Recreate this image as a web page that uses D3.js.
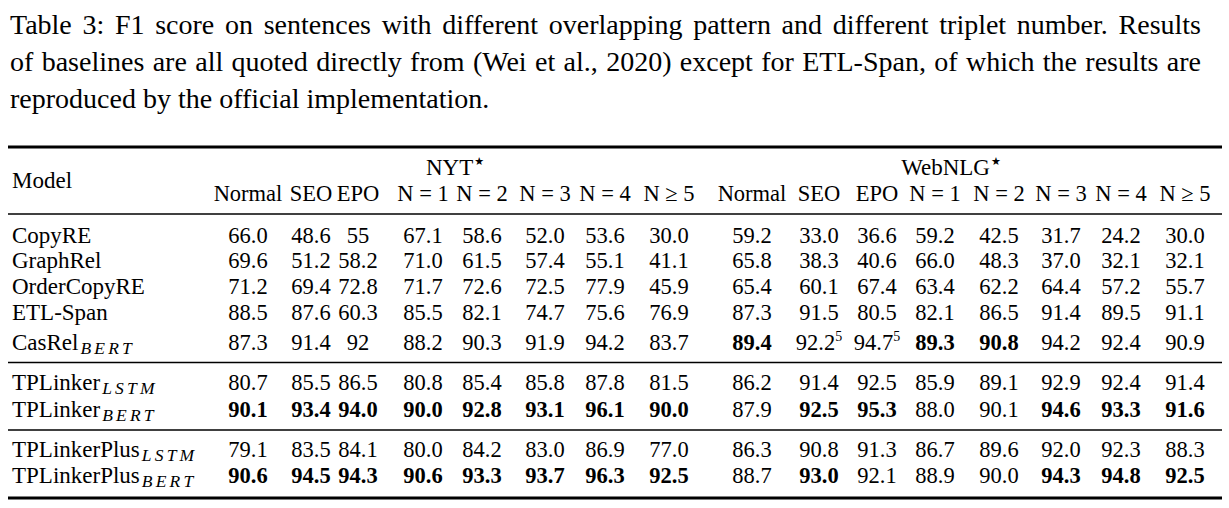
<!DOCTYPE html>
<html><head><meta charset="utf-8">
<script src="https://cdn.jsdelivr.net/npm/d3@7"></script>
<style>html,body{margin:0;padding:0;background:#fff;} svg{display:block;}</style>
</head><body><svg id="c" width="1229" height="508"></svg>
<script>
// ---------------- DATA ----------------
const captionLines = [
  "Table 3: F1 score on sentences with different overlapping pattern and different triplet number.  Results",
  "of baselines are all quoted directly from (Wei et al., 2020) except for ETL-Span, of which the results are",
  "reproduced by the official implementation."
];
const datasets = ["NYT", "WebNLG"];
const columns = ["Normal", "SEO", "EPO", "N = 1", "N = 2", "N = 3", "N = 4", "N \u2265 5"];
const models = ["CopyRE", "GraphRel", "OrderCopyRE", "ETL-Span", "CasRel", "TPLinker", "TPLinker", "TPLinkerPlus", "TPLinkerPlus"];
const modelSubs = ["", "", "", "", "BERT", "LSTM", "BERT", "LSTM", "BERT"];
// NYT (8 values) followed by WebNLG (8 values)
const copyRE        = ["66.0","48.6","55","67.1","58.6","52.0","53.6","30.0", "59.2","33.0","36.6","59.2","42.5","31.7","24.2","30.0"];
const graphRel      = ["69.6","51.2","58.2","71.0","61.5","57.4","55.1","41.1", "65.8","38.3","40.6","66.0","48.3","37.0","32.1","32.1"];
const orderCopyRE   = ["71.2","69.4","72.8","71.7","72.6","72.5","77.9","45.9", "65.4","60.1","67.4","63.4","62.2","64.4","57.2","55.7"];
const etlSpan       = ["88.5","87.6","60.3","85.5","82.1","74.7","75.6","76.9", "87.3","91.5","80.5","82.1","86.5","91.4","89.5","91.1"];
const casRelBert    = ["87.3","91.4","92","88.2","90.3","91.9","94.2","83.7", "89.4","92.2","94.7","89.3","90.8","94.2","92.4","90.9"];
const tpLinkerLstm  = ["80.7","85.5","86.5","80.8","85.4","85.8","87.8","81.5", "86.2","91.4","92.5","85.9","89.1","92.9","92.4","91.4"];
const tpLinkerBert  = ["90.1","93.4","94.0","90.0","92.8","93.1","96.1","90.0", "87.9","92.5","95.3","88.0","90.1","94.6","93.3","91.6"];
const tpPlusLstm    = ["79.1","83.5","84.1","80.0","84.2","83.0","86.9","77.0", "86.3","90.8","91.3","86.7","89.6","92.0","92.3","88.3"];
const tpPlusBert    = ["90.6","94.5","94.3","90.6","93.3","93.7","96.3","92.5", "88.7","93.0","92.1","88.9","90.0","94.3","94.8","92.5"];
const rowValues = [copyRE, graphRel, orderCopyRE, etlSpan, casRelBert, tpLinkerLstm, tpLinkerBert, tpPlusLstm, tpPlusBert];
// best results (bold): column indices per row
const boldColumns = [[], [], [], [], [8, 11, 12], [], [0,1,2,3,4,5,6,7,9,10,13,14,15], [], [0,1,2,3,4,5,6,7,9,13,14,15]];
// footnote markers: [row, column, mark]
const footnotes = [[4, 9, "5"], [4, 10, "5"]];

// ---------------- LAYOUT ----------------
const W = 1229, H = 508;
const FONT = "'Liberation Serif','Times New Roman',Times,serif";
const colCenters = [248, 311, 358, 423, 482, 545, 605, 669, 752, 819, 877, 935, 999, 1061, 1121, 1185];
const rowBaselines = [243, 268, 294, 320, 350, 390, 417, 457, 483];
const groupLabelX = [455, 951];
const ruleX = [8, 1222];
const rules = [{y: 147, w: 3}, {y: 214, w: 1.3}, {y: 362.5, w: 1.3}, {y: 430, w: 1.3}, {y: 498, w: 3.2}];

const svg = d3.select("#c");
svg.append("rect").attr("width", W).attr("height", H).attr("fill", "#fff");

// caption (justified)
const capG = svg.append("g").attr("font-family", FONT).attr("font-size", 28).attr("fill", "#000");
const capLeft = 10, capRight = 1201, capBase = 34, capLead = 37;
captionLines.forEach((line, li) => {
  const words = line.split(/\s+/);
  const yy = capBase + li * capLead;
  const nodes = words.map(w => capG.append("text").attr("y", yy).text(w));
  const widths = nodes.map(n => n.node().getComputedTextLength());
  const total = d3.sum(widths);
  const last = li === captionLines.length - 1;
  const gap = last ? 7 : (capRight - capLeft - total) / (words.length - 1);
  let xx = capLeft;
  nodes.forEach((n, i) => { n.attr("x", xx); xx += widths[i] + gap; });
});

// scales
const colKeys = d3.cross(datasets, columns).map(d => d.join("|"));
const x = d3.scaleOrdinal().domain(colKeys).range(colCenters);
const y = d3.scaleOrdinal().domain(d3.range(models.length)).range(rowBaselines);
const xGroup = d3.scaleOrdinal().domain(datasets).range(groupLabelX);

// rules
svg.append("g").selectAll("line").data(rules).join("line")
  .attr("x1", ruleX[0]).attr("x2", ruleX[1])
  .attr("y1", d => d.y).attr("y2", d => d.y)
  .attr("stroke", "#000").attr("stroke-width", d => d.w);

const tbl = svg.append("g").attr("font-family", FONT).attr("font-size", 22.5).attr("fill", "#000");

// header
tbl.append("text").attr("x", 12).attr("y", 188).attr("font-size", 23).text("Model");
const gl = tbl.selectAll("text.grp").data(datasets).join("text").attr("class", "grp")
  .attr("x", d => xGroup(d)).attr("y", 175).attr("text-anchor", "middle").attr("font-size", 23);
gl.append("tspan").text(d => d);
gl.append("tspan").attr("font-size", 11).attr("dy", -10).attr("dx", 1)
  .attr("font-family", "'DejaVu Sans',sans-serif").text("\u2605");
tbl.selectAll("text.colh").data(colKeys).join("text").attr("class", "colh")
  .attr("x", d => x(d)).attr("y", 201).attr("text-anchor", "middle")
  .text(d => d.split("|")[1]);

// model names
const mn = tbl.selectAll("text.model").data(models).join("text").attr("class", "model")
  .attr("x", 12).attr("y", (d, i) => y(i)).attr("font-size", 23);
mn.append("tspan").text(d => d);
mn.append("tspan").attr("font-size", 17.5).attr("font-style", "italic").attr("letter-spacing", 3.2)
  .attr("dy", 4).attr("dx", 2).text((d, i) => modelSubs[i]);

// cells
const cells = [];
rowValues.forEach((vals, r) => vals.forEach((v, c) => {
  const fn = footnotes.find(f => f[0] === r && f[1] === c);
  cells.push({r, c, v, bold: boldColumns[r].includes(c), mark: fn ? fn[2] : null});
}));
const ct = tbl.selectAll("text.cell").data(cells).join("text").attr("class", "cell")
  .attr("x", d => x(colKeys[d.c])).attr("y", d => y(d.r)).attr("text-anchor", "middle")
  .attr("font-weight", d => d.bold ? "bold" : null);
ct.append("tspan").text(d => d.v);
ct.filter(d => d.mark).append("tspan").attr("font-size", 14).attr("dy", -9).text(d => d.mark);
</script></body></html>
